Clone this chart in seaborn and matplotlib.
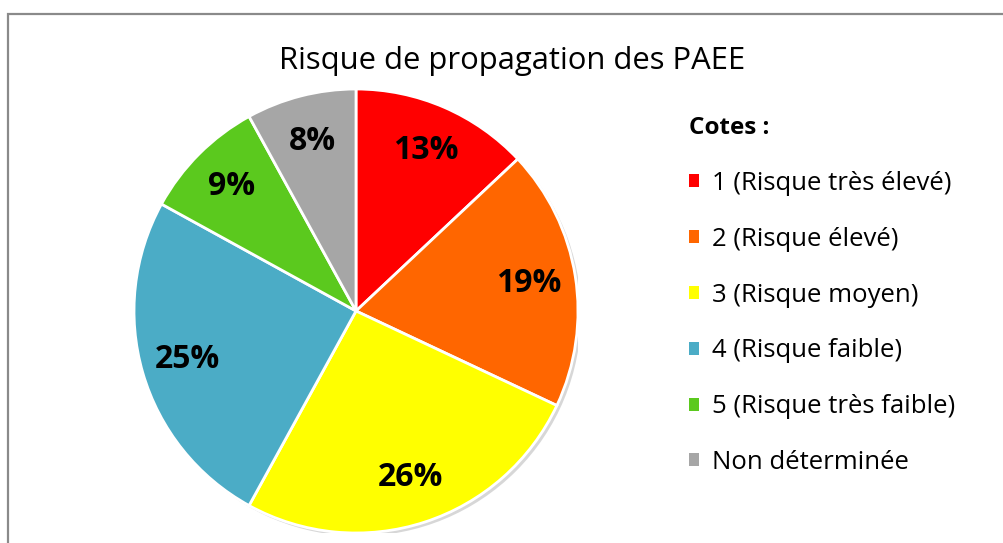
import matplotlib
matplotlib.use("Agg")
import matplotlib.pyplot as plt
import matplotlib.patches as mpatches
import seaborn as sns

# Data
categories = ["1 (Risque très élevé)", "2 (Risque élevé)", "3 (Risque moyen)",
              "4 (Risque faible)", "5 (Risque très faible)", "Non déterminée"]
shares = [13, 19, 26, 25, 9, 8]
colors = ["#FF0000", "#FF6600", "#FFFF00", "#4BACC6", "#5BC91E", "#A6A6A6"]

sns.set_theme(style="white")
plt.rcParams["font.family"] = ["Open Sans", "DejaVu Sans"]
plt.rcParams["text.color"] = "black"

W, H = 1004, 543
fig = plt.figure(figsize=(W / 100, H / 100), dpi=100)
fig.patch.set_facecolor("white")

# outer frame (cut off on right and bottom in the original)
fig.add_artist(mpatches.Rectangle((8 / W, -0.1), 1.2, (H - 14) / H + 0.1,
                                  transform=fig.transFigure, fill=False,
                                  edgecolor="#8a8a8a", lw=1.6))

# pie centred at (356, 311) px, radius 222 px
cx, cy, r = 356, 311, 222
ax = fig.add_axes([(cx - r) / W, (H - cy - r) / H, 2 * r / W, 2 * r / H])
# soft grey shadow behind the pie
ax.add_patch(mpatches.Circle((0.014, -0.014), 1.0, facecolor="#bdbdbd",
                             edgecolor="none", alpha=0.6, zorder=0))
wedges, texts, autotexts = ax.pie(
    shares, colors=colors, startangle=90, counterclock=False,
    autopct="%1.0f%%", pctdistance=0.79,
    wedgeprops=dict(edgecolor="white", linewidth=2),
)
for t in autotexts:
    t.set_fontsize(23)
    t.set_fontweight("bold")
    t.set_color("black")
ax.set_xlim(-1, 1)
ax.set_ylim(-1, 1)

fig.text(512 / W, 1 - 61 / H, "Risque de propagation des PAEE",
         ha="center", va="center", fontsize=22.3)

handles = [mpatches.Patch(facecolor=c, edgecolor="none") for c in colors]
leg = fig.legend(handles, categories, title="Cotes :", loc="upper left",
                 bbox_to_anchor=(666 / W, 1 - 93 / H), frameon=False,
                 fontsize=18.5, title_fontsize=17.5, handlelength=0.4,
                 handleheight=0.4, handletextpad=0.5, labelspacing=1.2,
                 alignment="left")
leg.get_title().set_fontweight("bold")

fig.savefig("out.png", dpi=100)
